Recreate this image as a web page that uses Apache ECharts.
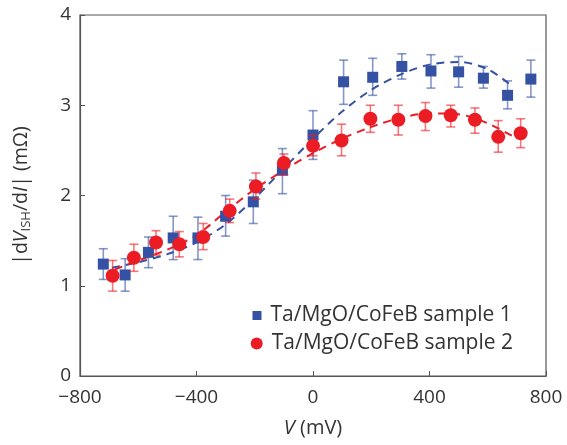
<!DOCTYPE html>
<html>
<head>
<meta charset="utf-8">
<script src="https://cdn.jsdelivr.net/npm/echarts@6/dist/echarts.min.js"></script>
<style>html,body{margin:0;padding:0;background:#fff;}#c{width:567px;height:445px;}</style>
</head>
<body>
<div id="c"></div>
<script>
const xTicks = [-800, -400, 0, 400, 800];
const yTicks = [0, 1, 2, 3, 4];
const seriesNames = ['Ta/MgO/CoFeB sample 1', 'Ta/MgO/CoFeB sample 2'];

const blueV  = [-720,-645,-565,-480,-395,-300,-205,-105,0,105,205,305,405,500,585,668,748];
const blueY  = [1.24,1.12,1.37,1.53,1.53,1.77,1.93,2.28,2.67,3.26,3.31,3.43,3.38,3.37,3.30,3.11,3.29];
const blueHi = [1.41,1.30,1.54,1.77,1.76,2.00,2.17,2.52,2.94,3.50,3.52,3.57,3.56,3.54,3.43,3.27,3.50];
const blueLo = [1.07,0.94,1.20,1.29,1.29,1.55,1.69,2.02,2.40,3.01,3.11,3.29,3.19,3.20,3.19,2.96,3.09];

const redV  = [-688,-615,-539,-459,-377,-286,-196,-100,0,98,197,293,386,473,556,636,713];
const redY  = [1.11,1.31,1.48,1.46,1.54,1.83,2.10,2.36,2.55,2.61,2.85,2.84,2.88,2.89,2.84,2.65,2.69];
const redHi = [1.28,1.46,1.61,1.60,1.69,1.96,2.25,2.46,2.67,2.79,3.00,3.00,3.03,3.00,2.97,2.83,2.85];
const redLo = [0.94,1.16,1.34,1.32,1.40,1.70,1.96,2.23,2.44,2.44,2.70,2.67,2.72,2.76,2.69,2.48,2.53];

const blueFitV = [-690,-600,-500,-400,-300,-200,-100,0,100,200,300,400,500,600,680];
const blueFitY = [1.20,1.26,1.35,1.48,1.68,1.97,2.30,2.63,2.93,3.17,3.34,3.45,3.48,3.40,3.22];
const redFitV  = [-680,-600,-500,-400,-300,-200,-100,0,100,200,300,400,500,600,700];
const redFitY  = [1.18,1.28,1.40,1.56,1.82,2.07,2.28,2.47,2.63,2.76,2.86,2.91,2.90,2.80,2.63];

const BLUE = '#3451a3';
const RED = '#ec1c24';
const BLUE_EB = 'rgba(52,81,163,0.6)';
const RED_EB = 'rgba(236,28,36,0.6)';
const FONT = 'Open Sans';
const TXT = '#333';

function zip(a, b) { return a.map((v, i) => [v, b[i]]); }
function ebData(v, lo, hi) { return v.map((x, i) => [x, lo[i], hi[i]]); }
function ebRender(color) {
  return function (params, api) {
    const x = api.value(0);
    const lo = api.coord([x, api.value(1)]);
    const hi = api.coord([x, api.value(2)]);
    const w = 4.5;
    const st = { stroke: color, lineWidth: 1.6 };
    return {
      type: 'group',
      children: [
        { type: 'line', shape: { x1: lo[0], y1: lo[1], x2: hi[0], y2: hi[1] }, style: st },
        { type: 'line', shape: { x1: lo[0] - w, y1: lo[1], x2: lo[0] + w, y2: lo[1] }, style: st },
        { type: 'line', shape: { x1: hi[0] - w, y1: hi[1], x2: hi[0] + w, y2: hi[1] }, style: st }
      ]
    };
  };
}

const chart = echarts.init(document.getElementById('c'), null, { renderer: 'canvas' });
chart.setOption({
  animation: false,
  textStyle: { fontFamily: FONT },
  grid: { left: 80, right: 21, top: 15, bottom: 69, show: true, borderColor: '#555', borderWidth: 1.2, containLabel: false },
  xAxis: {
    type: 'value', min: xTicks[0], max: xTicks[xTicks.length - 1], interval: 400,
    axisLine: { onZero: false, lineStyle: { color: '#555', width: 1.2 } },
    axisTick: { inside: true, length: 5, lineStyle: { color: '#555' } },
    splitLine: { show: false },
    axisLabel: { fontFamily: FONT, fontSize: 19, color: TXT, margin: 12,
      formatter: v => String(v).replace('-', '\u2212') },
    name: '{i|V} (mV)', nameLocation: 'middle', nameGap: 42,
    nameTextStyle: { fontFamily: FONT, fontSize: 20, color: TXT,
      rich: { i: { fontFamily: FONT, fontSize: 20, fontStyle: 'italic', color: TXT } } }
  },
  yAxis: {
    type: 'value', min: yTicks[0], max: yTicks[yTicks.length - 1], interval: 1,
    axisLine: { onZero: false, lineStyle: { color: '#555', width: 1.2 } },
    axisTick: { inside: true, length: 5, lineStyle: { color: '#555' } },
    splitLine: { show: false },
    axisLabel: { fontFamily: FONT, fontSize: 19, color: TXT, margin: 9 },
    name: '|d{i|V}{s|ISH}/d{i|I}| (mΩ)', nameLocation: 'middle', nameGap: 47,
    nameTextStyle: { fontFamily: FONT, fontSize: 19.5, color: TXT, lineHeight: 24,
      rich: {
        i: { fontFamily: FONT, fontSize: 19.5, fontStyle: 'italic', color: TXT, lineHeight: 24 },
        s: { fontFamily: FONT, fontSize: 13, color: TXT, lineHeight: 12, verticalAlign: 'bottom' }
      } }
  },
  legend: [
    { data: [{ name: seriesNames[0], icon: 'rect' }], left: 252.5, top: 305, padding: 0, itemWidth: 9, itemHeight: 9, itemGap: 0,
      textStyle: { fontFamily: FONT, fontSize: 21, color: TXT, padding: [0, 0, 0, 4] } },
    { data: [{ name: seriesNames[1], icon: 'circle' }], left: 250.7, top: 333, padding: 0, itemWidth: 12, itemHeight: 12, itemGap: 0,
      textStyle: { fontFamily: FONT, fontSize: 21, color: TXT, padding: [0, 0, 0, 4] } }
  ],
  series: [
    { name: 'fit1', type: 'line', data: zip(blueFitV, blueFitY), smooth: 0.3, symbol: 'none',
      lineStyle: { color: BLUE, width: 2, type: [8, 6] }, z: 1 },
    { name: 'fit2', type: 'line', data: zip(redFitV, redFitY), smooth: 0.3, symbol: 'none',
      lineStyle: { color: RED, width: 2, type: [8, 6] }, z: 1 },
    { name: 'eb1', type: 'custom', data: ebData(blueV, blueLo, blueHi), renderItem: ebRender(BLUE_EB), z: 2 },
    { name: seriesNames[0], type: 'scatter', data: zip(blueV, blueY), symbol: 'rect', symbolSize: 11,
      itemStyle: { color: BLUE, opacity: 1 }, z: 3 },
    { name: 'eb2', type: 'custom', data: ebData(redV, redLo, redHi), renderItem: ebRender(RED_EB), z: 4 },
    { name: seriesNames[1], type: 'scatter', data: zip(redV, redY), symbol: 'circle', symbolSize: 14,
      itemStyle: { color: RED, opacity: 1 }, z: 5 }
  ]
});
</script>
</body>
</html>
